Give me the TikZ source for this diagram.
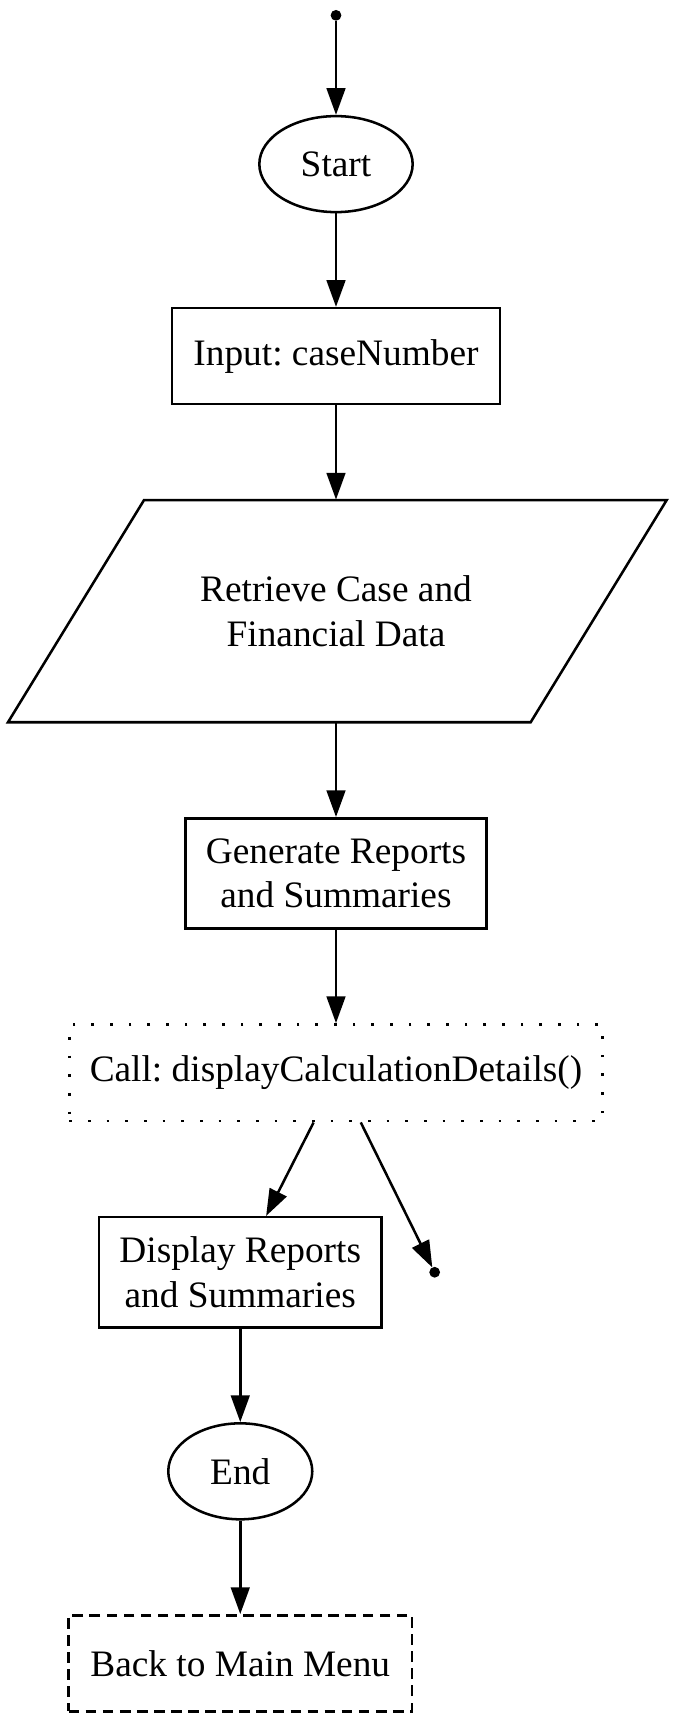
\documentclass[tikz,border=0pt]{standalone}
\usepackage{fontspec}
\setmainfont{Liberation Serif}
\frenchspacing
\usetikzlibrary{shapes.geometric,arrows.meta}
\begin{document}
\begin{tikzpicture}[x=1pt,y=1pt,
  base/.style={draw=black, line width=0.95pt, inner sep=0pt, align=center,
    font=\fontsize{14pt}{16.8pt}\selectfont},
  oval/.style={base, ellipse, minimum width=54pt, minimum height=36pt},
  box/.style={base, rectangle},
  dotbox/.style={box, dash pattern=on 1pt off 6pt},
  dashbox/.style={box, dash pattern=on 4pt off 2.4pt},
  pt/.style={circle, fill=black, draw=black, inner sep=0pt, minimum size=3.6pt},
  arr/.style={line width=0.95pt, -{Triangle[length=10pt,width=7pt]}}
]
\useasboundingbox (0,0) rectangle (252,645.75);
\node[pt] (top) at (126,640) {};
\node[oval, minimum width=57.5pt] (start) at (126,584.2) {Start};
\node[box, minimum width=123pt, minimum height=36pt] (input) at (126,512.2) {Input: caseNumber};
\node[inner sep=0pt, minimum height=83.3pt, minimum width=100pt, align=center,
  font=\fontsize{14pt}{16.8pt}\selectfont] (ret) at (126,416.55) {Retrieve Case and\\Financial Data};
\draw[line width=0.95pt, line join=miter]
  (54,458.2) -- (250,458.2) -- (199,374.9) -- (3,374.9) -- cycle;
\node[box, minimum width=113pt, minimum height=41.3pt] (gen) at (126,318.25) {Generate Reports\\and Summaries};
\node[dotbox, minimum width=200pt, minimum height=36.3pt] (call) at (126,243.45) {Call: displayCalculationDetails()};
\node[box, minimum width=106pt, minimum height=41.3pt] (disp) at (90.1,168.65) {Display Reports\\and Summaries};
\node[pt] (edot) at (163,168.65) {};
\node[oval] (end) at (90.1,94) {End};
\node[dashbox, minimum width=128.7pt, minimum height=36pt] (back) at (90.1,22) {Back to Main Menu};
\coordinate (c1) at ([xshift=-8.4pt]call.south);
\coordinate (c2) at ([xshift=9.3pt]call.south);
\coordinate (d1) at ([xshift=9.7pt]disp.north);
\draw[arr] (top) -- (start);
\draw[arr] (start) -- (input);
\draw[arr] (input) -- (ret.north);
\draw[arr] (ret.south) -- (gen);
\draw[arr] (gen) -- (call);
\draw[arr] (c1) -- (d1);
\draw[arr] (c2) -- (edot);
\draw[arr] (disp) -- (end);
\draw[arr] (end) -- (back);
\end{tikzpicture}
\end{document}
